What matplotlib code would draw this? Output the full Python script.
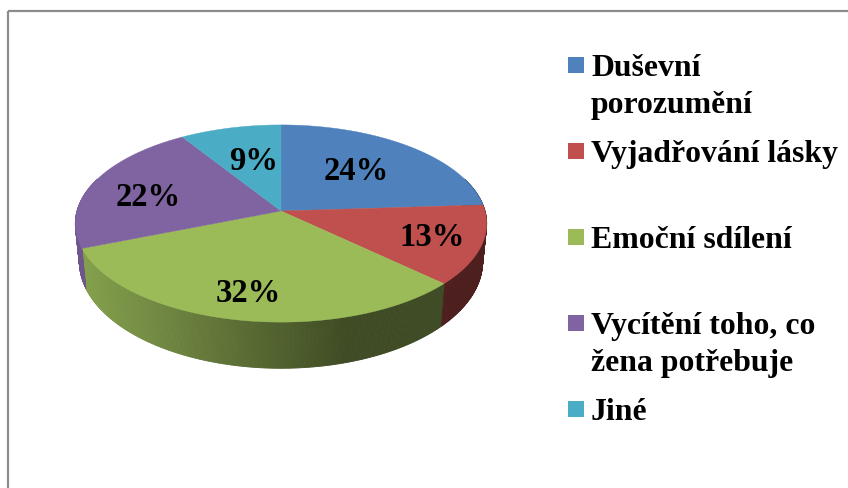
import numpy as np
import matplotlib
matplotlib.use('Agg')
import matplotlib.pyplot as plt
from matplotlib.collections import PolyCollection
from matplotlib.patches import Polygon, Rectangle

categories = ['Duševní\nporozumění', 'Vyjadřování lásky', 'Emoční sdílení',
              'Vycítění toho, co\nžena potřebuje', 'Jiné']
values = [24, 13, 32, 22, 9]
colors = ['#4F81BD', '#C0504D', '#9BBB59', '#8064A2', '#4BACC6']

plt.rcParams['font.family'] = ['Liberation Serif', 'DejaVu Serif']

# layout of the fake 3d pie, in pixels
cx, cy = 281, 211
top_w, top_h = 204, 97
bot_w, bot_h, bot_cy = 200, 105, 248
persp = 0.127
label_xy = [(356, 171), (432, 237), (248, 293), (148, 197), (254, 161)]
legend_y = [57, 143, 229, 315, 401]


def project(angle, w, h, y0):
    # angle in degrees, clockwise from the top of the pie
    a = np.radians(angle)
    x, y = np.sin(a), np.cos(a)
    d = 1 + persp * y
    return cx + w * x / d, y0 - h * y / d


def side_shade(x):
    # the wall gets darker to the right, flat after x=347
    t = np.clip((x - 80) / (347 - 80), 0, 1)
    return 0.86 - 0.46 * t


fig = plt.figure(figsize=(8.48, 4.88), dpi=100)
ax = fig.add_axes([0, 0, 1, 1])
ax.set_xlim(0, 848)
ax.set_ylim(488, 0)
ax.axis('off')

ax.add_patch(Rectangle((8, 11), 900, 600, fill=False, ec='#8c8c8c', lw=1.6))

edges = np.cumsum([0] + values) / sum(values) * 360

# side wall first, top face goes over it
quads, quad_cols = [], []
for i, col in enumerate(colors):
    rgb = np.array(matplotlib.colors.to_rgb(col))
    lo, hi = max(edges[i], 70), min(edges[i + 1], 290)
    if lo >= hi:
        continue
    steps = np.linspace(lo, hi, int((hi - lo) * 2) + 2)
    for a0, a1 in zip(steps[:-1], steps[1:]):
        x0, y0 = project(a0, top_w, top_h, cy)
        x1, y1 = project(a1, top_w, top_h, cy)
        x2, y2 = project(a1, bot_w, bot_h, bot_cy)
        x3, y3 = project(a0, bot_w, bot_h, bot_cy)
        quads.append([(x0, y0), (x1, y1), (x2, y2), (x3, y3)])
        quad_cols.append(rgb * side_shade((x0 + x1) / 2))
ax.add_collection(PolyCollection(quads, facecolors=quad_cols, edgecolors=quad_cols, linewidths=0.6))

for i, col in enumerate(colors):
    steps = np.linspace(edges[i], edges[i + 1], 120)
    xs, ys = project(steps, top_w, top_h, cy)
    pts = [(cx, cy)] + list(zip(xs, ys))
    ax.add_patch(Polygon(pts, closed=True, fc=col, ec=col, lw=0.3))

for v, (x, y) in zip(values, label_xy):
    ax.text(x, y, f'{v}%', ha='center', va='center', fontsize=23.5, fontweight='bold', color='black')

for cat, col, y in zip(categories, colors, legend_y):
    ax.add_patch(Rectangle((568, y), 16, 16, fc=col, ec='none'))
    ax.text(591, y - 3, cat, ha='left', va='top', fontsize=22.9, fontweight='bold',
            color='black', linespacing=1.36)

fig.savefig('out.png', dpi=100)
